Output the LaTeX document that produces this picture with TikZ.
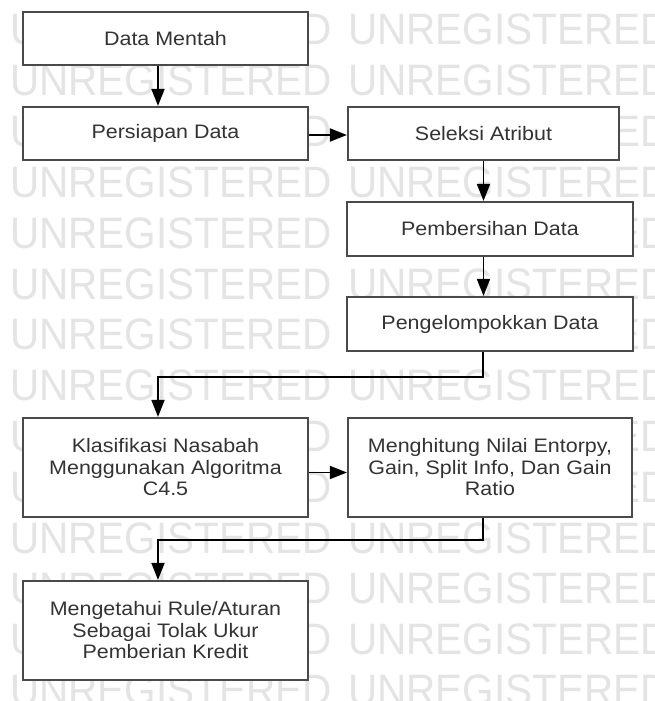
\documentclass[tikz,border=0pt]{standalone}
\usepackage{fontspec}
\setmainfont{Liberation Sans}[FakeStretch=1.1]
\newfontfamily\wmfont{Liberation Sans}[FakeStretch=0.92]
\usetikzlibrary{arrows.meta}
\definecolor{boxline}{HTML}{4A4A4A}
\definecolor{txt}{HTML}{333333}
\definecolor{wm}{HTML}{E4E4E4}
\begin{document}
\begin{tikzpicture}[x=1pt,y=-1pt,
  box/.style={draw=boxline,line width=2.2pt,fill=white,align=center,text=txt,
    font=\fontsize{19.5}{21.5}\selectfont,inner sep=0pt},
  arr/.style={draw=black,line width=1.8pt,-{Triangle[width=13pt,length=17pt]}},
  wmtext/.style={anchor=base west,inner sep=0pt,text=wm,font=\wmfont\fontsize{44}{44}\selectfont}]
\useasboundingbox (0,0) rectangle (654,701);
\fill[white] (0,0) rectangle (654,701);
\begin{scope}
\clip (0,0) rectangle (654,701);
\foreach \k in {0,...,13}{
  \node[wmtext] (wl\k) at (10,{45+50.8*\k}) {UNREGISTERED};
  \node[wmtext] (wr\k) at (348,{45+50.8*\k}) {UNREGISTERED};
}
\end{scope}
\node[box,minimum width=285pt,minimum height=53pt] (dm) at (165.5,38.5) {Data Mentah};
\node[box,minimum width=285pt,minimum height=53pt] (pd) at (165.5,133.5) {Persiapan Data};
\node[box,minimum width=271pt,minimum height=53pt] (sa) at (483.5,133.5) {Seleksi Atribut};
\node[box,minimum width=286pt,minimum height=54pt] (pb) at (490,229) {Pembersihan Data};
\node[box,minimum width=286pt,minimum height=54pt] (pk) at (490,324) {Pengelompokkan Data};
\node[box,minimum width=285pt,minimum height=99pt] (kn) at (165.5,467.5) {Klasifikasi Nasabah\\Menggunakan Algoritma\\C4.5};
\node[box,minimum width=284pt,minimum height=99pt] (mh) at (490,467.5) {Menghitung Nilai Entorpy,\\Gain, Split Info, Dan Gain\\Ratio};
\node[box,minimum width=285pt,minimum height=99pt] (mr) at (165.5,630.5) {Mengetahui Rule/Aturan\\Sebagai Tolak Ukur\\Pemberian Kredit};
\coordinate (c1) at (483,377);
\coordinate (c2) at (158,377);
\coordinate (c3) at (483,540);
\coordinate (c4) at (158,540);
\draw[arr] ([xshift=-7.5pt]dm.south) -- ([xshift=-7.5pt]pd.north);
\draw[arr] ([yshift=-1.5pt]pd.east) -- ([yshift=-1.5pt]sa.west);
\draw[arr] (sa.south) -- (sa.south |- pb.north);
\draw[arr] (pb.south -| sa.south) -- (pk.north -| sa.south);
\draw[arr] (pk.south -| c1) -- (c1) -- (c2) -- (kn.north -| c2);
\draw[arr] ([yshift=-5pt]kn.east) -- ([yshift=-5pt]mh.west);
\draw[arr] (mh.south -| c3) -- (c3) -- (c4) -- (mr.north -| c4);
\end{tikzpicture}
\end{document}
